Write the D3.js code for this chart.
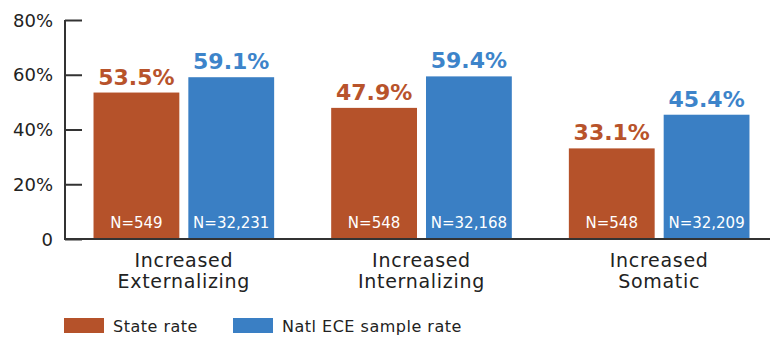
<!DOCTYPE html>
<html><head><meta charset="utf-8">
<script src="https://cdn.jsdelivr.net/npm/d3@7"></script>
<style>
body{margin:0;background:#fff;}
text{font-family:"DejaVu Sans",sans-serif;}
</style></head>
<body><svg id="c" width="775" height="337"></svg>
<script>
const categories = [["Increased","Externalizing"],["Increased","Internalizing"],["Increased","Somatic"]];
const seriesNames = ["State rate","Natl ECE sample rate"];
const stateRate = [53.5, 47.9, 33.1];
const natlRate = [59.1, 59.4, 45.4];
const stateN = ["N=549","N=548","N=548"];
const natlN = ["N=32,231","N=32,168","N=32,209"];
const yTicks = [0,20,40,60,80];
const yTickLabels = ["0","20%","40%","60%","80%"];
const colors = ["#b5522a","#3a7fc4"];
const labelColors = ["#b8532b","#3d84ca"];

const svg = d3.select("#c");
const y = d3.scaleLinear().domain([0,80]).range([239,20]);
const x0 = d3.scaleBand().domain(d3.range(3)).range([65,778]).paddingInner(0.24).paddingOuter(0.12);
const x1 = d3.scaleBand().domain([0,1]).range([0,x0.bandwidth()]).paddingInner(0.095);

const data = d3.range(3).map(i=>[
  {s:0,v:stateRate[i],n:stateN[i]},
  {s:1,v:natlRate[i],n:natlN[i]}
]);

// y axis
const yAxis = d3.axisRight(y).tickValues(yTicks).tickSize(17).tickFormat("");
const ga = svg.append("g").attr("transform","translate(65,0)").call(yAxis);
ga.select(".domain").remove();
ga.selectAll(".tick line").attr("stroke","#333").attr("stroke-width",2);
svg.append("line").attr("x1",65).attr("x2",65).attr("y1",y(80)).attr("y2",y(0)+1).attr("stroke","#333").attr("stroke-width",2);
svg.selectAll(".ylab").data(yTicks).join("text").attr("class","ylab")
  .attr("x",53).attr("y",d=>y(d)+6.5).attr("text-anchor","end")
  .attr("font-size",18).attr("fill","#222").text((d,i)=>yTickLabels[i]);

const groups = svg.selectAll(".grp").data(data).join("g").attr("class","grp")
  .attr("transform",(d,i)=>`translate(${x0(i)},0)`);
groups.selectAll("rect").data(d=>d).join("rect")
  .attr("x",d=>x1(d.s)).attr("width",x1.bandwidth())
  .attr("y",d=>y(d.v)).attr("height",d=>y(0)-y(d.v))
  .attr("fill",d=>colors[d.s]);
groups.selectAll(".val").data(d=>d).join("text").attr("class","val")
  .attr("x",d=>x1(d.s)+x1.bandwidth()/2).attr("y",d=>y(d.v)-8)
  .attr("text-anchor","middle").attr("font-size",22).attr("font-weight","bold")
  .attr("fill",d=>labelColors[d.s]).text(d=>d.v.toFixed(1)+"%");
groups.selectAll(".nlab").data(d=>d).join("text").attr("class","nlab")
  .attr("x",d=>x1(d.s)+x1.bandwidth()/2).attr("y",y(0)-11)
  .attr("text-anchor","middle").attr("font-size",15)
  .attr("fill","#fff").text(d=>d.n);

// baseline
svg.append("line").attr("x1",64).attr("x2",770).attr("y1",y(0)).attr("y2",y(0)).attr("stroke","#333").attr("stroke-width",2);

// category labels
svg.selectAll(".cat").data(categories).join("text").attr("class","cat")
  .attr("x",(d,i)=>x0(i)+x0.bandwidth()/2).attr("y",267)
  .attr("text-anchor","middle").attr("font-size",19).attr("letter-spacing",0.7).attr("fill","#222")
  .selectAll("tspan").data(d=>d).join("tspan")
  .attr("x",function(){return this.parentNode.getAttribute("x");})
  .attr("dy",(d,i)=>i===0?0:21).text(d=>d);

// legend
const legX = [64,233];
const leg = svg.selectAll(".leg").data(seriesNames).join("g").attr("class","leg")
  .attr("transform",(d,i)=>`translate(${legX[i]},318)`);
leg.append("rect").attr("width",40).attr("height",15).attr("fill",(d,i)=>colors[i]);
leg.append("text").attr("x",49).attr("y",14).attr("font-size",16).attr("letter-spacing",0.5).attr("fill","#222").text(d=>d);
</script></body></html>
